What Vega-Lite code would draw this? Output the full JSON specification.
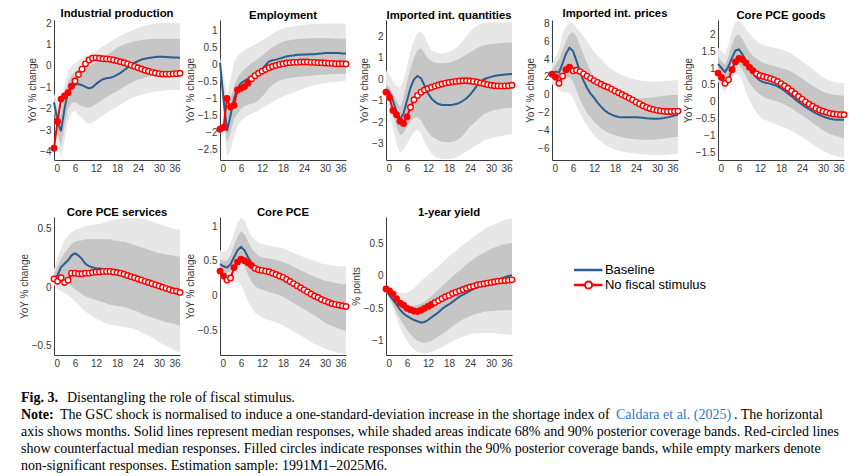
{
  "$schema": "https://vega.github.io/schema/vega-lite/v6.json",
  "background": "white",
  "padding": {"left": 19, "top": 7, "right": 0, "bottom": 0},
  "datasets": {
    "irf": [
      {"v":"ip","h":0,"base":-1.7,"cf":-3.85,"sig":1,"lo90":-2.1,"hi90":-1.3,"lo68":-1.9,"hi68":-1.5},
      {"v":"ip","h":1,"base":-2.6,"cf":-2.6,"sig":1,"lo90":-3.5,"hi90":-1.7,"lo68":-3.0,"hi68":-2.1},
      {"v":"ip","h":2,"base":-3.05,"cf":-1.55,"sig":1,"lo90":-4.3,"hi90":-1.9,"lo68":-3.8,"hi68":-2.4},
      {"v":"ip","h":3,"base":-2.0,"cf":-1.4,"sig":1,"lo90":-3.5,"hi90":-0.9,"lo68":-2.8,"hi68":-1.3},
      {"v":"ip","h":4,"base":-1.2,"cf":-1.25,"sig":1,"lo90":-2.6,"hi90":-0.3,"lo68":-2.0,"hi68":-0.75},
      {"v":"ip","h":5,"base":-0.95,"cf":-0.95,"sig":1,"lo90":-2.2,"hi90":0.0,"lo68":-1.75,"hi68":-0.45},
      {"v":"ip","h":6,"base":-0.88,"cf":-0.7,"sig":0,"lo90":-2.1,"hi90":0.12,"lo68":-1.7,"hi68":-0.3},
      {"v":"ip","h":7,"base":-0.85,"cf":-0.4,"sig":0,"lo90":-2.3,"hi90":0.25,"lo68":-1.8,"hi68":-0.15},
      {"v":"ip","h":8,"base":-0.9,"cf":-0.15,"sig":0,"lo90":-2.45,"hi90":0.35,"lo68":-1.88,"hi68":-0.05},
      {"v":"ip","h":9,"base":-0.98,"cf":0.1,"sig":0,"lo90":-2.6,"hi90":0.45,"lo68":-1.93,"hi68":0.0},
      {"v":"ip","h":10,"base":-1.05,"cf":0.28,"sig":0,"lo90":-2.7,"hi90":0.55,"lo68":-1.95,"hi68":0.03},
      {"v":"ip","h":11,"base":-1.0,"cf":0.36,"sig":0,"lo90":-2.65,"hi90":0.62,"lo68":-1.88,"hi68":0.1},
      {"v":"ip","h":12,"base":-0.85,"cf":0.38,"sig":0,"lo90":-2.55,"hi90":0.7,"lo68":-1.78,"hi68":0.18},
      {"v":"ip","h":13,"base":-0.72,"cf":0.36,"sig":0,"lo90":-2.42,"hi90":0.8,"lo68":-1.67,"hi68":0.28},
      {"v":"ip","h":14,"base":-0.62,"cf":0.34,"sig":0,"lo90":-2.3,"hi90":0.92,"lo68":-1.55,"hi68":0.38},
      {"v":"ip","h":15,"base":-0.58,"cf":0.33,"sig":0,"lo90":-2.2,"hi90":1.02,"lo68":-1.45,"hi68":0.5},
      {"v":"ip","h":16,"base":-0.55,"cf":0.31,"sig":0,"lo90":-2.1,"hi90":1.12,"lo68":-1.36,"hi68":0.62},
      {"v":"ip","h":17,"base":-0.5,"cf":0.28,"sig":0,"lo90":-2.0,"hi90":1.22,"lo68":-1.27,"hi68":0.74},
      {"v":"ip","h":18,"base":-0.42,"cf":0.24,"sig":0,"lo90":-1.92,"hi90":1.32,"lo68":-1.18,"hi68":0.84},
      {"v":"ip","h":19,"base":-0.32,"cf":0.2,"sig":0,"lo90":-1.8,"hi90":1.42,"lo68":-1.08,"hi68":0.93},
      {"v":"ip","h":20,"base":-0.2,"cf":0.15,"sig":0,"lo90":-1.7,"hi90":1.5,"lo68":-0.98,"hi68":1.0},
      {"v":"ip","h":21,"base":-0.08,"cf":0.1,"sig":0,"lo90":-1.6,"hi90":1.58,"lo68":-0.88,"hi68":1.06},
      {"v":"ip","h":22,"base":0.05,"cf":0.04,"sig":0,"lo90":-1.52,"hi90":1.65,"lo68":-0.8,"hi68":1.1},
      {"v":"ip","h":23,"base":0.15,"cf":-0.02,"sig":0,"lo90":-1.45,"hi90":1.72,"lo68":-0.72,"hi68":1.15},
      {"v":"ip","h":24,"base":0.23,"cf":-0.08,"sig":0,"lo90":-1.4,"hi90":1.78,"lo68":-0.65,"hi68":1.18},
      {"v":"ip","h":25,"base":0.3,"cf":-0.14,"sig":0,"lo90":-1.35,"hi90":1.84,"lo68":-0.6,"hi68":1.21},
      {"v":"ip","h":26,"base":0.34,"cf":-0.2,"sig":0,"lo90":-1.3,"hi90":1.88,"lo68":-0.55,"hi68":1.23},
      {"v":"ip","h":27,"base":0.37,"cf":-0.25,"sig":0,"lo90":-1.26,"hi90":1.92,"lo68":-0.5,"hi68":1.25},
      {"v":"ip","h":28,"base":0.4,"cf":-0.3,"sig":0,"lo90":-1.23,"hi90":1.96,"lo68":-0.46,"hi68":1.26},
      {"v":"ip","h":29,"base":0.42,"cf":-0.33,"sig":0,"lo90":-1.2,"hi90":1.99,"lo68":-0.43,"hi68":1.27},
      {"v":"ip","h":30,"base":0.43,"cf":-0.36,"sig":0,"lo90":-1.18,"hi90":2.01,"lo68":-0.41,"hi68":1.27},
      {"v":"ip","h":31,"base":0.43,"cf":-0.38,"sig":0,"lo90":-1.16,"hi90":2.02,"lo68":-0.39,"hi68":1.27},
      {"v":"ip","h":32,"base":0.42,"cf":-0.38,"sig":0,"lo90":-1.14,"hi90":2.02,"lo68":-0.38,"hi68":1.27},
      {"v":"ip","h":33,"base":0.41,"cf":-0.38,"sig":0,"lo90":-1.13,"hi90":2.02,"lo68":-0.37,"hi68":1.27},
      {"v":"ip","h":34,"base":0.4,"cf":-0.37,"sig":0,"lo90":-1.12,"hi90":2.01,"lo68":-0.36,"hi68":1.27},
      {"v":"ip","h":35,"base":0.39,"cf":-0.36,"sig":0,"lo90":-1.12,"hi90":2.0,"lo68":-0.36,"hi68":1.27},
      {"v":"ip","h":36,"base":0.38,"cf":-0.34,"sig":0,"lo90":-1.12,"hi90":2.0,"lo68":-0.36,"hi68":1.27},

      {"v":"emp","h":0,"base":0.05,"cf":-1.9,"sig":1,"lo90":-0.15,"hi90":0.2,"lo68":-0.05,"hi68":0.1},
      {"v":"emp","h":1,"base":-1.0,"cf":-1.85,"sig":1,"lo90":-1.6,"hi90":-0.3,"lo68":-1.3,"hi68":-0.65},
      {"v":"emp","h":2,"base":-1.95,"cf":-1.0,"sig":1,"lo90":-2.7,"hi90":-0.9,"lo68":-2.3,"hi68":-1.45},
      {"v":"emp","h":3,"base":-1.5,"cf":-1.25,"sig":1,"lo90":-2.5,"hi90":-0.45,"lo68":-2.0,"hi68":-1.0},
      {"v":"emp","h":4,"base":-1.0,"cf":-1.2,"sig":1,"lo90":-2.1,"hi90":0.05,"lo68":-1.6,"hi68":-0.65},
      {"v":"emp","h":5,"base":-0.7,"cf":-0.75,"sig":1,"lo90":-1.8,"hi90":0.25,"lo68":-1.45,"hi68":-0.4},
      {"v":"emp","h":6,"base":-0.55,"cf":-0.7,"sig":1,"lo90":-1.65,"hi90":0.35,"lo68":-1.3,"hi68":-0.25},
      {"v":"emp","h":7,"base":-0.48,"cf":-0.65,"sig":1,"lo90":-1.57,"hi90":0.42,"lo68":-1.22,"hi68":-0.14},
      {"v":"emp","h":8,"base":-0.42,"cf":-0.55,"sig":1,"lo90":-1.5,"hi90":0.48,"lo68":-1.18,"hi68":-0.05},
      {"v":"emp","h":9,"base":-0.38,"cf":-0.42,"sig":0,"lo90":-1.45,"hi90":0.53,"lo68":-1.15,"hi68":0.03},
      {"v":"emp","h":10,"base":-0.35,"cf":-0.33,"sig":0,"lo90":-1.4,"hi90":0.58,"lo68":-1.12,"hi68":0.1},
      {"v":"emp","h":11,"base":-0.28,"cf":-0.26,"sig":0,"lo90":-1.35,"hi90":0.64,"lo68":-1.05,"hi68":0.18},
      {"v":"emp","h":12,"base":-0.15,"cf":-0.2,"sig":0,"lo90":-1.28,"hi90":0.7,"lo68":-0.95,"hi68":0.25},
      {"v":"emp","h":13,"base":-0.02,"cf":-0.15,"sig":0,"lo90":-1.22,"hi90":0.76,"lo68":-0.83,"hi68":0.34},
      {"v":"emp","h":14,"base":0.08,"cf":-0.1,"sig":0,"lo90":-1.16,"hi90":0.83,"lo68":-0.7,"hi68":0.42},
      {"v":"emp","h":15,"base":0.12,"cf":-0.06,"sig":0,"lo90":-1.1,"hi90":0.9,"lo68":-0.6,"hi68":0.5},
      {"v":"emp","h":16,"base":0.14,"cf":-0.03,"sig":0,"lo90":-1.04,"hi90":0.96,"lo68":-0.53,"hi68":0.57},
      {"v":"emp","h":17,"base":0.17,"cf":0.0,"sig":0,"lo90":-0.99,"hi90":1.01,"lo68":-0.48,"hi68":0.62},
      {"v":"emp","h":18,"base":0.2,"cf":0.02,"sig":0,"lo90":-0.94,"hi90":1.05,"lo68":-0.45,"hi68":0.66},
      {"v":"emp","h":19,"base":0.23,"cf":0.04,"sig":0,"lo90":-0.9,"hi90":1.08,"lo68":-0.42,"hi68":0.69},
      {"v":"emp","h":20,"base":0.25,"cf":0.05,"sig":0,"lo90":-0.86,"hi90":1.1,"lo68":-0.4,"hi68":0.71},
      {"v":"emp","h":21,"base":0.26,"cf":0.06,"sig":0,"lo90":-0.82,"hi90":1.12,"lo68":-0.38,"hi68":0.73},
      {"v":"emp","h":22,"base":0.28,"cf":0.06,"sig":0,"lo90":-0.78,"hi90":1.14,"lo68":-0.37,"hi68":0.74},
      {"v":"emp","h":23,"base":0.28,"cf":0.07,"sig":0,"lo90":-0.74,"hi90":1.15,"lo68":-0.36,"hi68":0.75},
      {"v":"emp","h":24,"base":0.29,"cf":0.07,"sig":0,"lo90":-0.7,"hi90":1.16,"lo68":-0.35,"hi68":0.76},
      {"v":"emp","h":25,"base":0.29,"cf":0.07,"sig":0,"lo90":-0.67,"hi90":1.17,"lo68":-0.34,"hi68":0.76},
      {"v":"emp","h":26,"base":0.3,"cf":0.06,"sig":0,"lo90":-0.64,"hi90":1.18,"lo68":-0.33,"hi68":0.77},
      {"v":"emp","h":27,"base":0.3,"cf":0.06,"sig":0,"lo90":-0.61,"hi90":1.18,"lo68":-0.32,"hi68":0.77},
      {"v":"emp","h":28,"base":0.31,"cf":0.05,"sig":0,"lo90":-0.59,"hi90":1.19,"lo68":-0.31,"hi68":0.77},
      {"v":"emp","h":29,"base":0.32,"cf":0.05,"sig":0,"lo90":-0.57,"hi90":1.19,"lo68":-0.3,"hi68":0.77},
      {"v":"emp","h":30,"base":0.33,"cf":0.04,"sig":0,"lo90":-0.55,"hi90":1.2,"lo68":-0.3,"hi68":0.77},
      {"v":"emp","h":31,"base":0.33,"cf":0.03,"sig":0,"lo90":-0.53,"hi90":1.2,"lo68":-0.29,"hi68":0.77},
      {"v":"emp","h":32,"base":0.33,"cf":0.03,"sig":0,"lo90":-0.52,"hi90":1.2,"lo68":-0.29,"hi68":0.76},
      {"v":"emp","h":33,"base":0.33,"cf":0.02,"sig":0,"lo90":-0.51,"hi90":1.2,"lo68":-0.28,"hi68":0.76},
      {"v":"emp","h":34,"base":0.33,"cf":0.02,"sig":0,"lo90":-0.5,"hi90":1.2,"lo68":-0.28,"hi68":0.76},
      {"v":"emp","h":35,"base":0.32,"cf":0.02,"sig":0,"lo90":-0.49,"hi90":1.2,"lo68":-0.28,"hi68":0.75},
      {"v":"emp","h":36,"base":0.32,"cf":0.01,"sig":0,"lo90":-0.48,"hi90":1.2,"lo68":-0.28,"hi68":0.75},

      {"v":"impq","h":0,"base":-0.45,"cf":-0.6,"sig":1,"lo90":-0.8,"hi90":0.4,"lo68":-0.6,"hi68":-0.25},
      {"v":"impq","h":1,"base":-0.6,"cf":-0.85,"sig":1,"lo90":-1.5,"hi90":0.2,"lo68":-1.0,"hi68":-0.4},
      {"v":"impq","h":2,"base":-1.0,"cf":-1.45,"sig":1,"lo90":-2.3,"hi90":-0.1,"lo68":-1.6,"hi68":-0.7},
      {"v":"impq","h":3,"base":-1.5,"cf":-1.65,"sig":1,"lo90":-3.0,"hi90":-0.3,"lo68":-2.2,"hi68":-1.0},
      {"v":"impq","h":4,"base":-1.85,"cf":-1.95,"sig":1,"lo90":-3.4,"hi90":-0.4,"lo68":-2.6,"hi68":-1.3},
      {"v":"impq","h":5,"base":-1.6,"cf":-2.05,"sig":1,"lo90":-3.3,"hi90":-0.1,"lo68":-2.5,"hi68":-0.9},
      {"v":"impq","h":6,"base":-1.0,"cf":-1.75,"sig":1,"lo90":-3.0,"hi90":0.6,"lo68":-2.2,"hi68":-0.1},
      {"v":"impq","h":7,"base":-0.4,"cf":-1.3,"sig":0,"lo90":-2.7,"hi90":1.3,"lo68":-1.95,"hi68":0.5},
      {"v":"impq","h":8,"base":0.0,"cf":-0.95,"sig":0,"lo90":-2.45,"hi90":1.8,"lo68":-1.8,"hi68":1.0},
      {"v":"impq","h":9,"base":0.15,"cf":-0.75,"sig":0,"lo90":-2.35,"hi90":2.15,"lo68":-1.75,"hi68":1.35},
      {"v":"impq","h":10,"base":0.05,"cf":-0.6,"sig":0,"lo90":-2.5,"hi90":2.2,"lo68":-1.9,"hi68":1.45},
      {"v":"impq","h":11,"base":-0.3,"cf":-0.5,"sig":0,"lo90":-2.9,"hi90":2.0,"lo68":-2.2,"hi68":1.2},
      {"v":"impq","h":12,"base":-0.65,"cf":-0.43,"sig":0,"lo90":-3.2,"hi90":1.6,"lo68":-2.45,"hi68":0.95},
      {"v":"impq","h":13,"base":-0.9,"cf":-0.37,"sig":0,"lo90":-3.45,"hi90":1.35,"lo68":-2.65,"hi68":0.85},
      {"v":"impq","h":14,"base":-1.05,"cf":-0.32,"sig":0,"lo90":-3.6,"hi90":1.25,"lo68":-2.75,"hi68":0.78},
      {"v":"impq","h":15,"base":-1.15,"cf":-0.27,"sig":0,"lo90":-3.65,"hi90":1.2,"lo68":-2.85,"hi68":0.75},
      {"v":"impq","h":16,"base":-1.2,"cf":-0.22,"sig":0,"lo90":-3.7,"hi90":1.2,"lo68":-2.9,"hi68":0.74},
      {"v":"impq","h":17,"base":-1.2,"cf":-0.18,"sig":0,"lo90":-3.7,"hi90":1.22,"lo68":-2.92,"hi68":0.75},
      {"v":"impq","h":18,"base":-1.2,"cf":-0.15,"sig":0,"lo90":-3.7,"hi90":1.28,"lo68":-2.93,"hi68":0.78},
      {"v":"impq","h":19,"base":-1.18,"cf":-0.12,"sig":0,"lo90":-3.68,"hi90":1.35,"lo68":-2.9,"hi68":0.82},
      {"v":"impq","h":20,"base":-1.15,"cf":-0.1,"sig":0,"lo90":-3.62,"hi90":1.45,"lo68":-2.85,"hi68":0.88},
      {"v":"impq","h":21,"base":-1.1,"cf":-0.08,"sig":0,"lo90":-3.55,"hi90":1.6,"lo68":-2.75,"hi68":0.95},
      {"v":"impq","h":22,"base":-1.0,"cf":-0.07,"sig":0,"lo90":-3.45,"hi90":1.8,"lo68":-2.6,"hi68":1.05},
      {"v":"impq","h":23,"base":-0.88,"cf":-0.07,"sig":0,"lo90":-3.35,"hi90":2.0,"lo68":-2.4,"hi68":1.15},
      {"v":"impq","h":24,"base":-0.72,"cf":-0.08,"sig":0,"lo90":-3.25,"hi90":2.2,"lo68":-2.2,"hi68":1.25},
      {"v":"impq","h":25,"base":-0.52,"cf":-0.1,"sig":0,"lo90":-3.15,"hi90":2.35,"lo68":-2.05,"hi68":1.35},
      {"v":"impq","h":26,"base":-0.3,"cf":-0.13,"sig":0,"lo90":-3.05,"hi90":2.5,"lo68":-1.9,"hi68":1.45},
      {"v":"impq","h":27,"base":-0.12,"cf":-0.17,"sig":0,"lo90":-2.95,"hi90":2.58,"lo68":-1.75,"hi68":1.52},
      {"v":"impq","h":28,"base":0.0,"cf":-0.21,"sig":0,"lo90":-2.85,"hi90":2.62,"lo68":-1.62,"hi68":1.57},
      {"v":"impq","h":29,"base":0.06,"cf":-0.25,"sig":0,"lo90":-2.8,"hi90":2.64,"lo68":-1.55,"hi68":1.6},
      {"v":"impq","h":30,"base":0.11,"cf":-0.28,"sig":0,"lo90":-2.75,"hi90":2.65,"lo68":-1.48,"hi68":1.63},
      {"v":"impq","h":31,"base":0.15,"cf":-0.3,"sig":0,"lo90":-2.7,"hi90":2.65,"lo68":-1.43,"hi68":1.65},
      {"v":"impq","h":32,"base":0.18,"cf":-0.31,"sig":0,"lo90":-2.66,"hi90":2.65,"lo68":-1.4,"hi68":1.67},
      {"v":"impq","h":33,"base":0.2,"cf":-0.32,"sig":0,"lo90":-2.63,"hi90":2.65,"lo68":-1.37,"hi68":1.68},
      {"v":"impq","h":34,"base":0.22,"cf":-0.31,"sig":0,"lo90":-2.6,"hi90":2.65,"lo68":-1.35,"hi68":1.69},
      {"v":"impq","h":35,"base":0.23,"cf":-0.3,"sig":0,"lo90":-2.58,"hi90":2.65,"lo68":-1.33,"hi68":1.7},
      {"v":"impq","h":36,"base":0.24,"cf":-0.28,"sig":0,"lo90":-2.56,"hi90":2.65,"lo68":-1.32,"hi68":1.7},

      {"v":"impp","h":0,"base":2.3,"cf":2.3,"sig":1,"lo90":1.2,"hi90":3.5,"lo68":1.8,"hi68":2.8},
      {"v":"impp","h":1,"base":2.6,"cf":2.0,"sig":1,"lo90":1.0,"hi90":4.2,"lo68":1.6,"hi68":3.4},
      {"v":"impp","h":2,"base":2.5,"cf":1.3,"sig":0,"lo90":0.6,"hi90":5.0,"lo68":1.4,"hi68":4.0},
      {"v":"impp","h":3,"base":3.5,"cf":2.1,"sig":0,"lo90":0.3,"hi90":6.8,"lo68":1.5,"hi68":5.0},
      {"v":"impp","h":4,"base":4.6,"cf":2.8,"sig":1,"lo90":0.3,"hi90":7.6,"lo68":1.8,"hi68":6.0},
      {"v":"impp","h":5,"base":5.25,"cf":3.1,"sig":1,"lo90":0.2,"hi90":8.1,"lo68":2.0,"hi68":6.8},
      {"v":"impp","h":6,"base":4.9,"cf":2.7,"sig":0,"lo90":-0.3,"hi90":8.0,"lo68":1.5,"hi68":7.0},
      {"v":"impp","h":7,"base":3.8,"cf":2.75,"sig":0,"lo90":-1.2,"hi90":7.5,"lo68":0.5,"hi68":6.5},
      {"v":"impp","h":8,"base":2.6,"cf":2.6,"sig":0,"lo90":-2.0,"hi90":7.0,"lo68":-0.5,"hi68":5.5},
      {"v":"impp","h":9,"base":1.6,"cf":2.35,"sig":0,"lo90":-2.8,"hi90":6.5,"lo68":-1.3,"hi68":4.5},
      {"v":"impp","h":10,"base":0.8,"cf":2.1,"sig":0,"lo90":-3.4,"hi90":6.0,"lo68":-2.0,"hi68":3.5},
      {"v":"impp","h":11,"base":0.15,"cf":1.85,"sig":0,"lo90":-4.0,"hi90":5.4,"lo68":-2.5,"hi68":2.7},
      {"v":"impp","h":12,"base":-0.3,"cf":1.6,"sig":0,"lo90":-4.5,"hi90":4.8,"lo68":-3.0,"hi68":2.0},
      {"v":"impp","h":13,"base":-0.85,"cf":1.4,"sig":0,"lo90":-4.9,"hi90":4.4,"lo68":-3.35,"hi68":1.5},
      {"v":"impp","h":14,"base":-1.3,"cf":1.2,"sig":0,"lo90":-5.2,"hi90":4.0,"lo68":-3.7,"hi68":1.05},
      {"v":"impp","h":15,"base":-1.7,"cf":1.0,"sig":0,"lo90":-5.5,"hi90":3.6,"lo68":-3.95,"hi68":0.7},
      {"v":"impp","h":16,"base":-2.0,"cf":0.85,"sig":0,"lo90":-5.75,"hi90":3.2,"lo68":-4.2,"hi68":0.4},
      {"v":"impp","h":17,"base":-2.2,"cf":0.65,"sig":0,"lo90":-5.95,"hi90":2.9,"lo68":-4.35,"hi68":0.2},
      {"v":"impp","h":18,"base":-2.35,"cf":0.45,"sig":0,"lo90":-6.1,"hi90":2.6,"lo68":-4.5,"hi68":0.1},
      {"v":"impp","h":19,"base":-2.45,"cf":0.25,"sig":0,"lo90":-6.2,"hi90":2.4,"lo68":-4.6,"hi68":0.0},
      {"v":"impp","h":20,"base":-2.5,"cf":0.05,"sig":0,"lo90":-6.3,"hi90":2.2,"lo68":-4.7,"hi68":-0.1},
      {"v":"impp","h":21,"base":-2.5,"cf":-0.15,"sig":0,"lo90":-6.4,"hi90":2.05,"lo68":-4.8,"hi68":-0.2},
      {"v":"impp","h":22,"base":-2.5,"cf":-0.35,"sig":0,"lo90":-6.45,"hi90":1.9,"lo68":-4.85,"hi68":-0.3},
      {"v":"impp","h":23,"base":-2.5,"cf":-0.55,"sig":0,"lo90":-6.5,"hi90":1.8,"lo68":-4.9,"hi68":-0.35},
      {"v":"impp","h":24,"base":-2.5,"cf":-0.8,"sig":0,"lo90":-6.55,"hi90":1.7,"lo68":-4.95,"hi68":-0.4},
      {"v":"impp","h":25,"base":-2.52,"cf":-1.0,"sig":0,"lo90":-6.6,"hi90":1.62,"lo68":-5.0,"hi68":-0.4},
      {"v":"impp","h":26,"base":-2.55,"cf":-1.2,"sig":0,"lo90":-6.62,"hi90":1.55,"lo68":-5.0,"hi68":-0.38},
      {"v":"impp","h":27,"base":-2.6,"cf":-1.38,"sig":0,"lo90":-6.65,"hi90":1.52,"lo68":-5.0,"hi68":-0.35},
      {"v":"impp","h":28,"base":-2.62,"cf":-1.52,"sig":0,"lo90":-6.68,"hi90":1.5,"lo68":-5.0,"hi68":-0.3},
      {"v":"impp","h":29,"base":-2.65,"cf":-1.63,"sig":0,"lo90":-6.7,"hi90":1.5,"lo68":-5.0,"hi68":-0.25},
      {"v":"impp","h":30,"base":-2.65,"cf":-1.72,"sig":0,"lo90":-6.7,"hi90":1.5,"lo68":-4.95,"hi68":-0.2},
      {"v":"impp","h":31,"base":-2.63,"cf":-1.78,"sig":0,"lo90":-6.7,"hi90":1.52,"lo68":-4.9,"hi68":-0.15},
      {"v":"impp","h":32,"base":-2.58,"cf":-1.82,"sig":0,"lo90":-6.68,"hi90":1.55,"lo68":-4.85,"hi68":-0.1},
      {"v":"impp","h":33,"base":-2.5,"cf":-1.85,"sig":0,"lo90":-6.66,"hi90":1.58,"lo68":-4.8,"hi68":-0.05},
      {"v":"impp","h":34,"base":-2.4,"cf":-1.85,"sig":0,"lo90":-6.64,"hi90":1.6,"lo68":-4.75,"hi68":0.0},
      {"v":"impp","h":35,"base":-2.3,"cf":-1.83,"sig":0,"lo90":-6.62,"hi90":1.63,"lo68":-4.7,"hi68":0.0},
      {"v":"impp","h":36,"base":-2.2,"cf":-1.8,"sig":0,"lo90":-6.6,"hi90":1.65,"lo68":-4.65,"hi68":0.0},

      {"v":"pceg","h":0,"base":1.12,"cf":0.85,"sig":1,"lo90":0.6,"hi90":1.6,"lo68":0.9,"hi68":1.35},
      {"v":"pceg","h":1,"base":1.0,"cf":0.72,"sig":1,"lo90":0.4,"hi90":1.5,"lo68":0.7,"hi68":1.2},
      {"v":"pceg","h":2,"base":0.88,"cf":0.55,"sig":0,"lo90":0.3,"hi90":1.4,"lo68":0.6,"hi68":1.1},
      {"v":"pceg","h":3,"base":1.05,"cf":0.65,"sig":0,"lo90":0.45,"hi90":1.7,"lo68":0.75,"hi68":1.35},
      {"v":"pceg","h":4,"base":1.3,"cf":0.95,"sig":1,"lo90":0.7,"hi90":2.1,"lo68":1.0,"hi68":1.7},
      {"v":"pceg","h":5,"base":1.52,"cf":1.18,"sig":1,"lo90":0.85,"hi90":2.35,"lo68":1.15,"hi68":1.95},
      {"v":"pceg","h":6,"base":1.55,"cf":1.28,"sig":1,"lo90":0.8,"hi90":2.4,"lo68":1.1,"hi68":2.0},
      {"v":"pceg","h":7,"base":1.4,"cf":1.25,"sig":1,"lo90":0.6,"hi90":2.3,"lo68":0.95,"hi68":1.85},
      {"v":"pceg","h":8,"base":1.2,"cf":1.15,"sig":1,"lo90":0.3,"hi90":2.15,"lo68":0.75,"hi68":1.65},
      {"v":"pceg","h":9,"base":1.0,"cf":1.02,"sig":1,"lo90":0.05,"hi90":2.0,"lo68":0.55,"hi68":1.47},
      {"v":"pceg","h":10,"base":0.85,"cf":0.92,"sig":1,"lo90":-0.15,"hi90":1.9,"lo68":0.42,"hi68":1.35},
      {"v":"pceg","h":11,"base":0.72,"cf":0.83,"sig":0,"lo90":-0.32,"hi90":1.8,"lo68":0.3,"hi68":1.28},
      {"v":"pceg","h":12,"base":0.63,"cf":0.78,"sig":0,"lo90":-0.45,"hi90":1.72,"lo68":0.22,"hi68":1.2},
      {"v":"pceg","h":13,"base":0.58,"cf":0.75,"sig":0,"lo90":-0.52,"hi90":1.68,"lo68":0.15,"hi68":1.15},
      {"v":"pceg","h":14,"base":0.56,"cf":0.72,"sig":0,"lo90":-0.56,"hi90":1.65,"lo68":0.1,"hi68":1.12},
      {"v":"pceg","h":15,"base":0.53,"cf":0.69,"sig":0,"lo90":-0.6,"hi90":1.62,"lo68":0.07,"hi68":1.09},
      {"v":"pceg","h":16,"base":0.5,"cf":0.65,"sig":0,"lo90":-0.64,"hi90":1.6,"lo68":0.04,"hi68":1.06},
      {"v":"pceg","h":17,"base":0.46,"cf":0.6,"sig":0,"lo90":-0.68,"hi90":1.58,"lo68":0.01,"hi68":1.03},
      {"v":"pceg","h":18,"base":0.4,"cf":0.54,"sig":0,"lo90":-0.72,"hi90":1.55,"lo68":-0.03,"hi68":1.0},
      {"v":"pceg","h":19,"base":0.33,"cf":0.47,"sig":0,"lo90":-0.76,"hi90":1.52,"lo68":-0.08,"hi68":0.97},
      {"v":"pceg","h":20,"base":0.25,"cf":0.4,"sig":0,"lo90":-0.8,"hi90":1.48,"lo68":-0.13,"hi68":0.94},
      {"v":"pceg","h":21,"base":0.17,"cf":0.32,"sig":0,"lo90":-0.86,"hi90":1.42,"lo68":-0.19,"hi68":0.89},
      {"v":"pceg","h":22,"base":0.08,"cf":0.24,"sig":0,"lo90":-0.92,"hi90":1.35,"lo68":-0.26,"hi68":0.83},
      {"v":"pceg","h":23,"base":0.0,"cf":0.16,"sig":0,"lo90":-0.98,"hi90":1.28,"lo68":-0.33,"hi68":0.76},
      {"v":"pceg","h":24,"base":-0.08,"cf":0.08,"sig":0,"lo90":-1.04,"hi90":1.2,"lo68":-0.4,"hi68":0.69},
      {"v":"pceg","h":25,"base":-0.15,"cf":0.0,"sig":0,"lo90":-1.11,"hi90":1.12,"lo68":-0.47,"hi68":0.62},
      {"v":"pceg","h":26,"base":-0.22,"cf":-0.07,"sig":0,"lo90":-1.18,"hi90":1.05,"lo68":-0.54,"hi68":0.55},
      {"v":"pceg","h":27,"base":-0.28,"cf":-0.13,"sig":0,"lo90":-1.25,"hi90":0.96,"lo68":-0.62,"hi68":0.48},
      {"v":"pceg","h":28,"base":-0.34,"cf":-0.19,"sig":0,"lo90":-1.32,"hi90":0.88,"lo68":-0.7,"hi68":0.41},
      {"v":"pceg","h":29,"base":-0.39,"cf":-0.24,"sig":0,"lo90":-1.39,"hi90":0.8,"lo68":-0.77,"hi68":0.35},
      {"v":"pceg","h":30,"base":-0.43,"cf":-0.28,"sig":0,"lo90":-1.45,"hi90":0.72,"lo68":-0.84,"hi68":0.3},
      {"v":"pceg","h":31,"base":-0.47,"cf":-0.31,"sig":0,"lo90":-1.5,"hi90":0.67,"lo68":-0.9,"hi68":0.26},
      {"v":"pceg","h":32,"base":-0.5,"cf":-0.34,"sig":0,"lo90":-1.55,"hi90":0.62,"lo68":-0.95,"hi68":0.23},
      {"v":"pceg","h":33,"base":-0.52,"cf":-0.36,"sig":0,"lo90":-1.59,"hi90":0.59,"lo68":-0.99,"hi68":0.21},
      {"v":"pceg","h":34,"base":-0.53,"cf":-0.37,"sig":0,"lo90":-1.62,"hi90":0.57,"lo68":-1.02,"hi68":0.2},
      {"v":"pceg","h":35,"base":-0.53,"cf":-0.38,"sig":0,"lo90":-1.64,"hi90":0.56,"lo68":-1.05,"hi68":0.19},
      {"v":"pceg","h":36,"base":-0.53,"cf":-0.38,"sig":0,"lo90":-1.66,"hi90":0.55,"lo68":-1.07,"hi68":0.18},

      {"v":"pces","h":0,"base":0.08,"cf":0.07,"sig":0,"lo90":0.02,"hi90":0.15,"lo68":0.05,"hi68":0.11},
      {"v":"pces","h":1,"base":0.1,"cf":0.05,"sig":0,"lo90":-0.02,"hi90":0.25,"lo68":0.04,"hi68":0.18},
      {"v":"pces","h":2,"base":0.17,"cf":0.08,"sig":0,"lo90":-0.03,"hi90":0.33,"lo68":0.06,"hi68":0.24},
      {"v":"pces","h":3,"base":0.2,"cf":0.04,"sig":0,"lo90":-0.05,"hi90":0.4,"lo68":0.05,"hi68":0.29},
      {"v":"pces","h":4,"base":0.23,"cf":0.06,"sig":0,"lo90":-0.07,"hi90":0.44,"lo68":0.03,"hi68":0.33},
      {"v":"pces","h":5,"base":0.27,"cf":0.12,"sig":0,"lo90":-0.09,"hi90":0.47,"lo68":0.01,"hi68":0.37},
      {"v":"pces","h":6,"base":0.29,"cf":0.12,"sig":0,"lo90":-0.12,"hi90":0.49,"lo68":-0.02,"hi68":0.39},
      {"v":"pces","h":7,"base":0.27,"cf":0.115,"sig":0,"lo90":-0.15,"hi90":0.5,"lo68":-0.04,"hi68":0.4},
      {"v":"pces","h":8,"base":0.24,"cf":0.115,"sig":0,"lo90":-0.18,"hi90":0.51,"lo68":-0.06,"hi68":0.4},
      {"v":"pces","h":9,"base":0.2,"cf":0.12,"sig":0,"lo90":-0.21,"hi90":0.52,"lo68":-0.08,"hi68":0.41},
      {"v":"pces","h":10,"base":0.18,"cf":0.12,"sig":0,"lo90":-0.23,"hi90":0.53,"lo68":-0.09,"hi68":0.41},
      {"v":"pces","h":11,"base":0.17,"cf":0.125,"sig":0,"lo90":-0.25,"hi90":0.53,"lo68":-0.1,"hi68":0.41},
      {"v":"pces","h":12,"base":0.16,"cf":0.13,"sig":0,"lo90":-0.27,"hi90":0.54,"lo68":-0.11,"hi68":0.41},
      {"v":"pces","h":13,"base":0.16,"cf":0.13,"sig":0,"lo90":-0.28,"hi90":0.54,"lo68":-0.12,"hi68":0.41},
      {"v":"pces","h":14,"base":0.155,"cf":0.135,"sig":0,"lo90":-0.3,"hi90":0.55,"lo68":-0.13,"hi68":0.41},
      {"v":"pces","h":15,"base":0.15,"cf":0.135,"sig":0,"lo90":-0.31,"hi90":0.56,"lo68":-0.14,"hi68":0.41},
      {"v":"pces","h":16,"base":0.145,"cf":0.135,"sig":0,"lo90":-0.32,"hi90":0.57,"lo68":-0.15,"hi68":0.41},
      {"v":"pces","h":17,"base":0.14,"cf":0.13,"sig":0,"lo90":-0.325,"hi90":0.575,"lo68":-0.155,"hi68":0.4},
      {"v":"pces","h":18,"base":0.13,"cf":0.125,"sig":0,"lo90":-0.33,"hi90":0.58,"lo68":-0.16,"hi68":0.4},
      {"v":"pces","h":19,"base":0.125,"cf":0.12,"sig":0,"lo90":-0.335,"hi90":0.585,"lo68":-0.165,"hi68":0.39},
      {"v":"pces","h":20,"base":0.12,"cf":0.11,"sig":0,"lo90":-0.34,"hi90":0.59,"lo68":-0.17,"hi68":0.39},
      {"v":"pces","h":21,"base":0.11,"cf":0.1,"sig":0,"lo90":-0.345,"hi90":0.59,"lo68":-0.18,"hi68":0.38},
      {"v":"pces","h":22,"base":0.1,"cf":0.09,"sig":0,"lo90":-0.35,"hi90":0.59,"lo68":-0.19,"hi68":0.37},
      {"v":"pces","h":23,"base":0.09,"cf":0.08,"sig":0,"lo90":-0.36,"hi90":0.59,"lo68":-0.2,"hi68":0.36},
      {"v":"pces","h":24,"base":0.08,"cf":0.07,"sig":0,"lo90":-0.37,"hi90":0.59,"lo68":-0.21,"hi68":0.35},
      {"v":"pces","h":25,"base":0.07,"cf":0.06,"sig":0,"lo90":-0.385,"hi90":0.585,"lo68":-0.225,"hi68":0.34},
      {"v":"pces","h":26,"base":0.06,"cf":0.05,"sig":0,"lo90":-0.4,"hi90":0.58,"lo68":-0.24,"hi68":0.33},
      {"v":"pces","h":27,"base":0.05,"cf":0.04,"sig":0,"lo90":-0.415,"hi90":0.57,"lo68":-0.25,"hi68":0.32},
      {"v":"pces","h":28,"base":0.04,"cf":0.03,"sig":0,"lo90":-0.43,"hi90":0.56,"lo68":-0.26,"hi68":0.31},
      {"v":"pces","h":29,"base":0.025,"cf":0.02,"sig":0,"lo90":-0.45,"hi90":0.55,"lo68":-0.27,"hi68":0.3},
      {"v":"pces","h":30,"base":0.01,"cf":0.01,"sig":0,"lo90":-0.47,"hi90":0.54,"lo68":-0.28,"hi68":0.29},
      {"v":"pces","h":31,"base":0.0,"cf":0.0,"sig":0,"lo90":-0.485,"hi90":0.53,"lo68":-0.29,"hi68":0.285},
      {"v":"pces","h":32,"base":-0.01,"cf":-0.01,"sig":0,"lo90":-0.5,"hi90":0.52,"lo68":-0.3,"hi68":0.28},
      {"v":"pces","h":33,"base":-0.02,"cf":-0.02,"sig":0,"lo90":-0.515,"hi90":0.51,"lo68":-0.305,"hi68":0.275},
      {"v":"pces","h":34,"base":-0.03,"cf":-0.03,"sig":0,"lo90":-0.53,"hi90":0.5,"lo68":-0.31,"hi68":0.27},
      {"v":"pces","h":35,"base":-0.035,"cf":-0.035,"sig":0,"lo90":-0.545,"hi90":0.495,"lo68":-0.32,"hi68":0.265},
      {"v":"pces","h":36,"base":-0.04,"cf":-0.045,"sig":0,"lo90":-0.56,"hi90":0.49,"lo68":-0.33,"hi68":0.26},

      {"v":"pce","h":0,"base":0.45,"cf":0.35,"sig":1,"lo90":0.25,"hi90":0.65,"lo68":0.38,"hi68":0.52},
      {"v":"pce","h":1,"base":0.42,"cf":0.28,"sig":1,"lo90":0.2,"hi90":0.62,"lo68":0.34,"hi68":0.5},
      {"v":"pce","h":2,"base":0.4,"cf":0.22,"sig":0,"lo90":0.15,"hi90":0.65,"lo68":0.32,"hi68":0.5},
      {"v":"pce","h":3,"base":0.45,"cf":0.25,"sig":0,"lo90":0.15,"hi90":0.75,"lo68":0.35,"hi68":0.58},
      {"v":"pce","h":4,"base":0.55,"cf":0.4,"sig":1,"lo90":0.2,"hi90":0.9,"lo68":0.42,"hi68":0.72},
      {"v":"pce","h":5,"base":0.65,"cf":0.48,"sig":1,"lo90":0.2,"hi90":1.05,"lo68":0.5,"hi68":0.85},
      {"v":"pce","h":6,"base":0.7,"cf":0.52,"sig":1,"lo90":0.15,"hi90":1.12,"lo68":0.5,"hi68":0.92},
      {"v":"pce","h":7,"base":0.65,"cf":0.5,"sig":1,"lo90":0.05,"hi90":1.08,"lo68":0.42,"hi68":0.88},
      {"v":"pce","h":8,"base":0.55,"cf":0.47,"sig":1,"lo90":-0.08,"hi90":0.95,"lo68":0.3,"hi68":0.78},
      {"v":"pce","h":9,"base":0.47,"cf":0.43,"sig":1,"lo90":-0.18,"hi90":0.85,"lo68":0.2,"hi68":0.68},
      {"v":"pce","h":10,"base":0.4,"cf":0.39,"sig":0,"lo90":-0.25,"hi90":0.8,"lo68":0.13,"hi68":0.62},
      {"v":"pce","h":11,"base":0.36,"cf":0.37,"sig":0,"lo90":-0.29,"hi90":0.76,"lo68":0.1,"hi68":0.57},
      {"v":"pce","h":12,"base":0.34,"cf":0.36,"sig":0,"lo90":-0.32,"hi90":0.74,"lo68":0.08,"hi68":0.55},
      {"v":"pce","h":13,"base":0.33,"cf":0.35,"sig":0,"lo90":-0.34,"hi90":0.73,"lo68":0.065,"hi68":0.54},
      {"v":"pce","h":14,"base":0.32,"cf":0.34,"sig":0,"lo90":-0.36,"hi90":0.72,"lo68":0.05,"hi68":0.53},
      {"v":"pce","h":15,"base":0.31,"cf":0.32,"sig":0,"lo90":-0.37,"hi90":0.71,"lo68":0.035,"hi68":0.52},
      {"v":"pce","h":16,"base":0.29,"cf":0.3,"sig":0,"lo90":-0.39,"hi90":0.7,"lo68":0.02,"hi68":0.51},
      {"v":"pce","h":17,"base":0.27,"cf":0.28,"sig":0,"lo90":-0.41,"hi90":0.69,"lo68":0.0,"hi68":0.5},
      {"v":"pce","h":18,"base":0.25,"cf":0.26,"sig":0,"lo90":-0.43,"hi90":0.68,"lo68":-0.02,"hi68":0.48},
      {"v":"pce","h":19,"base":0.22,"cf":0.23,"sig":0,"lo90":-0.46,"hi90":0.66,"lo68":-0.05,"hi68":0.46},
      {"v":"pce","h":20,"base":0.19,"cf":0.2,"sig":0,"lo90":-0.49,"hi90":0.63,"lo68":-0.08,"hi68":0.44},
      {"v":"pce","h":21,"base":0.16,"cf":0.17,"sig":0,"lo90":-0.52,"hi90":0.61,"lo68":-0.11,"hi68":0.41},
      {"v":"pce","h":22,"base":0.13,"cf":0.14,"sig":0,"lo90":-0.55,"hi90":0.59,"lo68":-0.14,"hi68":0.39},
      {"v":"pce","h":23,"base":0.1,"cf":0.11,"sig":0,"lo90":-0.58,"hi90":0.57,"lo68":-0.17,"hi68":0.36},
      {"v":"pce","h":24,"base":0.07,"cf":0.08,"sig":0,"lo90":-0.61,"hi90":0.55,"lo68":-0.2,"hi68":0.34},
      {"v":"pce","h":25,"base":0.04,"cf":0.05,"sig":0,"lo90":-0.64,"hi90":0.53,"lo68":-0.23,"hi68":0.31},
      {"v":"pce","h":26,"base":0.01,"cf":0.02,"sig":0,"lo90":-0.67,"hi90":0.51,"lo68":-0.26,"hi68":0.29},
      {"v":"pce","h":27,"base":-0.02,"cf":-0.01,"sig":0,"lo90":-0.7,"hi90":0.5,"lo68":-0.29,"hi68":0.27},
      {"v":"pce","h":28,"base":-0.05,"cf":-0.03,"sig":0,"lo90":-0.72,"hi90":0.48,"lo68":-0.32,"hi68":0.25},
      {"v":"pce","h":29,"base":-0.08,"cf":-0.06,"sig":0,"lo90":-0.75,"hi90":0.46,"lo68":-0.36,"hi68":0.23},
      {"v":"pce","h":30,"base":-0.1,"cf":-0.08,"sig":0,"lo90":-0.77,"hi90":0.45,"lo68":-0.39,"hi68":0.21},
      {"v":"pce","h":31,"base":-0.12,"cf":-0.1,"sig":0,"lo90":-0.79,"hi90":0.44,"lo68":-0.42,"hi68":0.2},
      {"v":"pce","h":32,"base":-0.14,"cf":-0.12,"sig":0,"lo90":-0.8,"hi90":0.43,"lo68":-0.44,"hi68":0.19},
      {"v":"pce","h":33,"base":-0.16,"cf":-0.13,"sig":0,"lo90":-0.82,"hi90":0.42,"lo68":-0.46,"hi68":0.18},
      {"v":"pce","h":34,"base":-0.17,"cf":-0.14,"sig":0,"lo90":-0.83,"hi90":0.42,"lo68":-0.48,"hi68":0.17},
      {"v":"pce","h":35,"base":-0.18,"cf":-0.15,"sig":0,"lo90":-0.84,"hi90":0.42,"lo68":-0.5,"hi68":0.16},
      {"v":"pce","h":36,"base":-0.19,"cf":-0.16,"sig":0,"lo90":-0.85,"hi90":0.42,"lo68":-0.51,"hi68":0.16},

      {"v":"y1","h":0,"base":-0.22,"cf":-0.2,"sig":1,"lo90":-0.25,"hi90":-0.15,"lo68":-0.22,"hi68":-0.18},
      {"v":"y1","h":1,"base":-0.3,"cf":-0.23,"sig":1,"lo90":-0.36,"hi90":-0.18,"lo68":-0.33,"hi68":-0.23},
      {"v":"y1","h":2,"base":-0.37,"cf":-0.28,"sig":1,"lo90":-0.5,"hi90":-0.21,"lo68":-0.45,"hi68":-0.28},
      {"v":"y1","h":3,"base":-0.44,"cf":-0.35,"sig":1,"lo90":-0.65,"hi90":-0.24,"lo68":-0.56,"hi68":-0.33},
      {"v":"y1","h":4,"base":-0.52,"cf":-0.42,"sig":1,"lo90":-0.8,"hi90":-0.26,"lo68":-0.66,"hi68":-0.38},
      {"v":"y1","h":5,"base":-0.58,"cf":-0.45,"sig":1,"lo90":-0.9,"hi90":-0.27,"lo68":-0.75,"hi68":-0.42},
      {"v":"y1","h":6,"base":-0.62,"cf":-0.5,"sig":1,"lo90":-1.0,"hi90":-0.26,"lo68":-0.83,"hi68":-0.45},
      {"v":"y1","h":7,"base":-0.65,"cf":-0.52,"sig":1,"lo90":-1.08,"hi90":-0.23,"lo68":-0.9,"hi68":-0.46},
      {"v":"y1","h":8,"base":-0.68,"cf":-0.54,"sig":1,"lo90":-1.14,"hi90":-0.19,"lo68":-0.96,"hi68":-0.46},
      {"v":"y1","h":9,"base":-0.7,"cf":-0.55,"sig":1,"lo90":-1.17,"hi90":-0.13,"lo68":-1.0,"hi68":-0.45},
      {"v":"y1","h":10,"base":-0.72,"cf":-0.53,"sig":1,"lo90":-1.19,"hi90":-0.08,"lo68":-1.02,"hi68":-0.43},
      {"v":"y1","h":11,"base":-0.71,"cf":-0.5,"sig":1,"lo90":-1.2,"hi90":-0.03,"lo68":-1.03,"hi68":-0.4},
      {"v":"y1","h":12,"base":-0.68,"cf":-0.47,"sig":1,"lo90":-1.19,"hi90":0.02,"lo68":-1.02,"hi68":-0.36},
      {"v":"y1","h":13,"base":-0.64,"cf":-0.44,"sig":1,"lo90":-1.17,"hi90":0.06,"lo68":-1.0,"hi68":-0.31},
      {"v":"y1","h":14,"base":-0.6,"cf":-0.41,"sig":0,"lo90":-1.15,"hi90":0.1,"lo68":-0.97,"hi68":-0.26},
      {"v":"y1","h":15,"base":-0.56,"cf":-0.38,"sig":0,"lo90":-1.12,"hi90":0.15,"lo68":-0.93,"hi68":-0.21},
      {"v":"y1","h":16,"base":-0.51,"cf":-0.35,"sig":0,"lo90":-1.1,"hi90":0.2,"lo68":-0.9,"hi68":-0.16},
      {"v":"y1","h":17,"base":-0.47,"cf":-0.32,"sig":0,"lo90":-1.07,"hi90":0.25,"lo68":-0.86,"hi68":-0.11},
      {"v":"y1","h":18,"base":-0.44,"cf":-0.3,"sig":0,"lo90":-1.04,"hi90":0.3,"lo68":-0.82,"hi68":-0.06},
      {"v":"y1","h":19,"base":-0.4,"cf":-0.27,"sig":0,"lo90":-1.01,"hi90":0.35,"lo68":-0.78,"hi68":-0.01},
      {"v":"y1","h":20,"base":-0.36,"cf":-0.25,"sig":0,"lo90":-0.98,"hi90":0.39,"lo68":-0.74,"hi68":0.04},
      {"v":"y1","h":21,"base":-0.32,"cf":-0.23,"sig":0,"lo90":-0.96,"hi90":0.44,"lo68":-0.7,"hi68":0.08},
      {"v":"y1","h":22,"base":-0.29,"cf":-0.21,"sig":0,"lo90":-0.94,"hi90":0.48,"lo68":-0.67,"hi68":0.13},
      {"v":"y1","h":23,"base":-0.26,"cf":-0.19,"sig":0,"lo90":-0.92,"hi90":0.52,"lo68":-0.64,"hi68":0.18},
      {"v":"y1","h":24,"base":-0.23,"cf":-0.17,"sig":0,"lo90":-0.9,"hi90":0.56,"lo68":-0.62,"hi68":0.22},
      {"v":"y1","h":25,"base":-0.2,"cf":-0.16,"sig":0,"lo90":-0.89,"hi90":0.6,"lo68":-0.6,"hi68":0.26},
      {"v":"y1","h":26,"base":-0.18,"cf":-0.14,"sig":0,"lo90":-0.88,"hi90":0.64,"lo68":-0.58,"hi68":0.3},
      {"v":"y1","h":27,"base":-0.16,"cf":-0.13,"sig":0,"lo90":-0.88,"hi90":0.68,"lo68":-0.57,"hi68":0.33},
      {"v":"y1","h":28,"base":-0.14,"cf":-0.12,"sig":0,"lo90":-0.88,"hi90":0.72,"lo68":-0.55,"hi68":0.36},
      {"v":"y1","h":29,"base":-0.12,"cf":-0.11,"sig":0,"lo90":-0.88,"hi90":0.75,"lo68":-0.55,"hi68":0.39},
      {"v":"y1","h":30,"base":-0.1,"cf":-0.1,"sig":0,"lo90":-0.88,"hi90":0.78,"lo68":-0.54,"hi68":0.42},
      {"v":"y1","h":31,"base":-0.08,"cf":-0.09,"sig":0,"lo90":-0.885,"hi90":0.8,"lo68":-0.54,"hi68":0.44},
      {"v":"y1","h":32,"base":-0.06,"cf":-0.08,"sig":0,"lo90":-0.89,"hi90":0.82,"lo68":-0.53,"hi68":0.46},
      {"v":"y1","h":33,"base":-0.04,"cf":-0.075,"sig":0,"lo90":-0.895,"hi90":0.85,"lo68":-0.53,"hi68":0.48},
      {"v":"y1","h":34,"base":-0.02,"cf":-0.07,"sig":0,"lo90":-0.9,"hi90":0.87,"lo68":-0.53,"hi68":0.49},
      {"v":"y1","h":35,"base":0.0,"cf":-0.065,"sig":0,"lo90":-0.905,"hi90":0.88,"lo68":-0.53,"hi68":0.5},
      {"v":"y1","h":36,"base":0.01,"cf":-0.06,"sig":0,"lo90":-0.91,"hi90":0.89,"lo68":-0.53,"hi68":0.51}
    ],
    "key": [
      {"series": "Baseline"},
      {"series": "No fiscal stimulus"}
    ],
    "caption": [
      {"line": 1, "kind": "bold", "text": "Fig. 3."},
      {"line": 1, "kind": "fig", "text": "Disentangling the role of fiscal stimulus."},
      {"line": 2, "kind": "bold", "text": "Note:"},
      {"line": 2, "kind": "note", "text": "The GSC shock is normalised to induce a one-standard-deviation increase in the shortage index of"},
      {"line": 2, "kind": "link", "text": "Caldara et al. (2025)"},
      {"line": 2, "kind": "tail", "text": ". The horizontal"},
      {"line": 3, "kind": "body", "text": "axis shows months. Solid lines represent median responses, while shaded areas indicate 68% and 90% posterior coverage bands. Red-circled lines"},
      {"line": 4, "kind": "body", "text": "show counterfactual median responses. Filled circles indicate responses within the 90% posterior coverage bands, while empty markers denote"},
      {"line": 5, "kind": "body", "text": "non-significant responses. Estimation sample: 1991M1–2025M6."}
    ]
  },
  "vconcat": [
    {
      "columns": 5,
      "bounds": "flush",
      "spacing": {"row": 57, "column": 40},
      "resolve": {"scale": {"x": "independent", "y": "independent", "color": "independent"}},
      "concat": [
        {
          "title": "Industrial production",
          "width": 126, "height": 140,
          "data": {"name": "irf"},
          "transform": [{"filter": "datum.v === 'ip'"}],
          "encoding": {"x": {"field": "h", "type": "quantitative", "scale": {"domain": [0, 36], "nice": false}, "axis": {"values": [0, 6, 12, 18, 24, 30, 36], "tickCount": 20, "title": null}}},
          "layer": [
            {"mark": {"type": "area", "color": "#e7e7e7"}, "encoding": {"y": {"field": "lo90", "type": "quantitative", "scale": {"domain": [-4.4, 2.15], "nice": false, "zero": false}, "axis": {"values": [-4, -3, -2, -1, 0, 1, 2], "tickCount": 20, "labelOverlap": false, "format": "d", "title": "YoY % change"}}, "y2": {"field": "hi90"}}},
            {"mark": {"type": "area", "color": "#c6c6c6"}, "encoding": {"y": {"field": "lo68", "type": "quantitative"}, "y2": {"field": "hi68"}}},
            {"mark": {"type": "rule", "color": "#4d4d4d", "strokeDash": [5, 3], "strokeWidth": 1}, "encoding": {"y": {"datum": 0}}},
            {"mark": {"type": "line", "color": "#2b5d8f", "strokeWidth": 2}, "encoding": {"y": {"field": "base", "type": "quantitative"}}},
            {"mark": {"type": "line", "color": "#ff0000", "strokeWidth": 2}, "encoding": {"y": {"field": "cf", "type": "quantitative"}}},
            {"mark": {"type": "point", "filled": true, "stroke": "#ff0000", "strokeWidth": 1.4, "size": 30, "opacity": 1}, "encoding": {"y": {"field": "cf", "type": "quantitative"}, "fill": {"condition": {"test": "datum.sig === 1", "value": "#ff0000"}, "value": "#ffffff"}}}
          ]
        },
        {
          "title": "Employment",
          "width": 126, "height": 140,
          "data": {"name": "irf"},
          "transform": [{"filter": "datum.v === 'emp'"}],
          "encoding": {"x": {"field": "h", "type": "quantitative", "scale": {"domain": [0, 36], "nice": false}, "axis": {"values": [0, 6, 12, 18, 24, 30, 36], "tickCount": 20, "title": null}}},
          "layer": [
            {"mark": {"type": "area", "color": "#e7e7e7"}, "encoding": {"y": {"field": "lo90", "type": "quantitative", "scale": {"domain": [-2.8, 1.3], "nice": false, "zero": false}, "axis": {"values": [-2.5, -2, -1.5, -1, -0.5, 0, 0.5, 1], "tickCount": 20, "labelOverlap": false, "format": ".1~f", "title": "YoY % change"}}, "y2": {"field": "hi90"}}},
            {"mark": {"type": "area", "color": "#c6c6c6"}, "encoding": {"y": {"field": "lo68", "type": "quantitative"}, "y2": {"field": "hi68"}}},
            {"mark": {"type": "rule", "color": "#4d4d4d", "strokeDash": [5, 3], "strokeWidth": 1}, "encoding": {"y": {"datum": 0}}},
            {"mark": {"type": "line", "color": "#2b5d8f", "strokeWidth": 2}, "encoding": {"y": {"field": "base", "type": "quantitative"}}},
            {"mark": {"type": "line", "color": "#ff0000", "strokeWidth": 2}, "encoding": {"y": {"field": "cf", "type": "quantitative"}}},
            {"mark": {"type": "point", "filled": true, "stroke": "#ff0000", "strokeWidth": 1.4, "size": 30, "opacity": 1}, "encoding": {"y": {"field": "cf", "type": "quantitative"}, "fill": {"condition": {"test": "datum.sig === 1", "value": "#ff0000"}, "value": "#ffffff"}}}
          ]
        },
        {
          "title": "Imported int. quantities",
          "width": 126, "height": 140,
          "data": {"name": "irf"},
          "transform": [{"filter": "datum.v === 'impq'"}],
          "encoding": {"x": {"field": "h", "type": "quantitative", "scale": {"domain": [0, 36], "nice": false}, "axis": {"values": [0, 6, 12, 18, 24, 30, 36], "tickCount": 20, "title": null}}},
          "layer": [
            {"mark": {"type": "area", "color": "#e7e7e7"}, "encoding": {"y": {"field": "lo90", "type": "quantitative", "scale": {"domain": [-3.75, 2.75], "nice": false, "zero": false}, "axis": {"values": [-3, -2, -1, 0, 1, 2], "tickCount": 20, "labelOverlap": false, "format": "d", "title": "YoY % change"}}, "y2": {"field": "hi90"}}},
            {"mark": {"type": "area", "color": "#c6c6c6"}, "encoding": {"y": {"field": "lo68", "type": "quantitative"}, "y2": {"field": "hi68"}}},
            {"mark": {"type": "rule", "color": "#4d4d4d", "strokeDash": [5, 3], "strokeWidth": 1}, "encoding": {"y": {"datum": 0}}},
            {"mark": {"type": "line", "color": "#2b5d8f", "strokeWidth": 2}, "encoding": {"y": {"field": "base", "type": "quantitative"}}},
            {"mark": {"type": "line", "color": "#ff0000", "strokeWidth": 2}, "encoding": {"y": {"field": "cf", "type": "quantitative"}}},
            {"mark": {"type": "point", "filled": true, "stroke": "#ff0000", "strokeWidth": 1.4, "size": 30, "opacity": 1}, "encoding": {"y": {"field": "cf", "type": "quantitative"}, "fill": {"condition": {"test": "datum.sig === 1", "value": "#ff0000"}, "value": "#ffffff"}}}
          ]
        },
        {
          "title": "Imported int. prices",
          "width": 126, "height": 140,
          "data": {"name": "irf"},
          "transform": [{"filter": "datum.v === 'impp'"}],
          "encoding": {"x": {"field": "h", "type": "quantitative", "scale": {"domain": [0, 36], "nice": false}, "axis": {"values": [0, 6, 12, 18, 24, 30, 36], "tickCount": 20, "title": null}}},
          "layer": [
            {"mark": {"type": "area", "color": "#e7e7e7"}, "encoding": {"y": {"field": "lo90", "type": "quantitative", "scale": {"domain": [-7.25, 8.35], "nice": false, "zero": false}, "axis": {"values": [-6, -4, -2, 0, 2, 4, 6, 8], "tickCount": 20, "labelOverlap": false, "format": "d", "title": "YoY % change"}}, "y2": {"field": "hi90"}}},
            {"mark": {"type": "area", "color": "#c6c6c6"}, "encoding": {"y": {"field": "lo68", "type": "quantitative"}, "y2": {"field": "hi68"}}},
            {"mark": {"type": "rule", "color": "#4d4d4d", "strokeDash": [5, 3], "strokeWidth": 1}, "encoding": {"y": {"datum": 0}}},
            {"mark": {"type": "line", "color": "#2b5d8f", "strokeWidth": 2}, "encoding": {"y": {"field": "base", "type": "quantitative"}}},
            {"mark": {"type": "line", "color": "#ff0000", "strokeWidth": 2}, "encoding": {"y": {"field": "cf", "type": "quantitative"}}},
            {"mark": {"type": "point", "filled": true, "stroke": "#ff0000", "strokeWidth": 1.4, "size": 30, "opacity": 1}, "encoding": {"y": {"field": "cf", "type": "quantitative"}, "fill": {"condition": {"test": "datum.sig === 1", "value": "#ff0000"}, "value": "#ffffff"}}}
          ]
        },
        {
          "title": "Core PCE goods",
          "width": 126, "height": 140,
          "data": {"name": "irf"},
          "transform": [{"filter": "datum.v === 'pceg'"}],
          "encoding": {"x": {"field": "h", "type": "quantitative", "scale": {"domain": [0, 36], "nice": false}, "axis": {"values": [0, 6, 12, 18, 24, 30, 36], "tickCount": 20, "title": null}}},
          "layer": [
            {"mark": {"type": "area", "color": "#e7e7e7"}, "encoding": {"y": {"field": "lo90", "type": "quantitative", "scale": {"domain": [-1.72, 2.42], "nice": false, "zero": false}, "axis": {"values": [-1.5, -1, -0.5, 0, 0.5, 1, 1.5, 2], "tickCount": 20, "labelOverlap": false, "format": ".1~f", "title": "YoY % change"}}, "y2": {"field": "hi90"}}},
            {"mark": {"type": "area", "color": "#c6c6c6"}, "encoding": {"y": {"field": "lo68", "type": "quantitative"}, "y2": {"field": "hi68"}}},
            {"mark": {"type": "rule", "color": "#4d4d4d", "strokeDash": [5, 3], "strokeWidth": 1}, "encoding": {"y": {"datum": 0}}},
            {"mark": {"type": "line", "color": "#2b5d8f", "strokeWidth": 2}, "encoding": {"y": {"field": "base", "type": "quantitative"}}},
            {"mark": {"type": "line", "color": "#ff0000", "strokeWidth": 2}, "encoding": {"y": {"field": "cf", "type": "quantitative"}}},
            {"mark": {"type": "point", "filled": true, "stroke": "#ff0000", "strokeWidth": 1.4, "size": 30, "opacity": 1}, "encoding": {"y": {"field": "cf", "type": "quantitative"}, "fill": {"condition": {"test": "datum.sig === 1", "value": "#ff0000"}, "value": "#ffffff"}}}
          ]
        },
        {
          "title": "Core PCE services",
          "width": 126, "height": 138,
          "data": {"name": "irf"},
          "transform": [{"filter": "datum.v === 'pces'"}],
          "encoding": {"x": {"field": "h", "type": "quantitative", "scale": {"domain": [0, 36], "nice": false}, "axis": {"values": [0, 6, 12, 18, 24, 30, 36], "tickCount": 20, "title": null}}},
          "layer": [
            {"mark": {"type": "area", "color": "#e7e7e7"}, "encoding": {"y": {"field": "lo90", "type": "quantitative", "scale": {"domain": [-0.58, 0.6], "nice": false, "zero": false}, "axis": {"values": [-0.5, 0, 0.5], "tickCount": 20, "labelOverlap": false, "format": ".1~f", "title": "YoY % change"}}, "y2": {"field": "hi90"}}},
            {"mark": {"type": "area", "color": "#c6c6c6"}, "encoding": {"y": {"field": "lo68", "type": "quantitative"}, "y2": {"field": "hi68"}}},
            {"mark": {"type": "rule", "color": "#4d4d4d", "strokeDash": [5, 3], "strokeWidth": 1}, "encoding": {"y": {"datum": 0}}},
            {"mark": {"type": "line", "color": "#2b5d8f", "strokeWidth": 2}, "encoding": {"y": {"field": "base", "type": "quantitative"}}},
            {"mark": {"type": "line", "color": "#ff0000", "strokeWidth": 2}, "encoding": {"y": {"field": "cf", "type": "quantitative"}}},
            {"mark": {"type": "point", "filled": true, "stroke": "#ff0000", "strokeWidth": 1.4, "size": 30, "opacity": 1}, "encoding": {"y": {"field": "cf", "type": "quantitative"}, "fill": {"condition": {"test": "datum.sig === 1", "value": "#ff0000"}, "value": "#ffffff"}}}
          ]
        },
        {
          "title": "Core PCE",
          "width": 126, "height": 138,
          "data": {"name": "irf"},
          "transform": [{"filter": "datum.v === 'pce'"}],
          "encoding": {"x": {"field": "h", "type": "quantitative", "scale": {"domain": [0, 36], "nice": false}, "axis": {"values": [0, 6, 12, 18, 24, 30, 36], "tickCount": 20, "title": null}}},
          "layer": [
            {"mark": {"type": "area", "color": "#e7e7e7"}, "encoding": {"y": {"field": "lo90", "type": "quantitative", "scale": {"domain": [-0.86, 1.13], "nice": false, "zero": false}, "axis": {"values": [-0.5, 0, 0.5, 1], "tickCount": 20, "labelOverlap": false, "format": ".1~f", "title": "YoY % change"}}, "y2": {"field": "hi90"}}},
            {"mark": {"type": "area", "color": "#c6c6c6"}, "encoding": {"y": {"field": "lo68", "type": "quantitative"}, "y2": {"field": "hi68"}}},
            {"mark": {"type": "rule", "color": "#4d4d4d", "strokeDash": [5, 3], "strokeWidth": 1}, "encoding": {"y": {"datum": 0}}},
            {"mark": {"type": "line", "color": "#2b5d8f", "strokeWidth": 2}, "encoding": {"y": {"field": "base", "type": "quantitative"}}},
            {"mark": {"type": "line", "color": "#ff0000", "strokeWidth": 2}, "encoding": {"y": {"field": "cf", "type": "quantitative"}}},
            {"mark": {"type": "point", "filled": true, "stroke": "#ff0000", "strokeWidth": 1.4, "size": 30, "opacity": 1}, "encoding": {"y": {"field": "cf", "type": "quantitative"}, "fill": {"condition": {"test": "datum.sig === 1", "value": "#ff0000"}, "value": "#ffffff"}}}
          ]
        },
        {
          "title": "1-year yield",
          "width": 126, "height": 138,
          "data": {"name": "irf"},
          "transform": [{"filter": "datum.v === 'y1'"}],
          "encoding": {"x": {"field": "h", "type": "quantitative", "scale": {"domain": [0, 36], "nice": false}, "axis": {"values": [0, 6, 12, 18, 24, 30, 36], "tickCount": 20, "title": null}}},
          "layer": [
            {"mark": {"type": "area", "color": "#e7e7e7"}, "encoding": {"y": {"field": "lo90", "type": "quantitative", "scale": {"domain": [-1.22, 0.91], "nice": false, "zero": false}, "axis": {"values": [-1, -0.5, 0, 0.5], "tickCount": 20, "labelOverlap": false, "format": ".1~f", "title": "% points"}}, "y2": {"field": "hi90"}}},
            {"mark": {"type": "area", "color": "#c6c6c6"}, "encoding": {"y": {"field": "lo68", "type": "quantitative"}, "y2": {"field": "hi68"}}},
            {"mark": {"type": "rule", "color": "#4d4d4d", "strokeDash": [5, 3], "strokeWidth": 1}, "encoding": {"y": {"datum": 0}}},
            {"mark": {"type": "line", "color": "#2b5d8f", "strokeWidth": 2}, "encoding": {"y": {"field": "base", "type": "quantitative"}}},
            {"mark": {"type": "line", "color": "#ff0000", "strokeWidth": 2}, "encoding": {"y": {"field": "cf", "type": "quantitative"}}},
            {"mark": {"type": "point", "filled": true, "stroke": "#ff0000", "strokeWidth": 1.4, "size": 30, "opacity": 1}, "encoding": {"y": {"field": "cf", "type": "quantitative"}, "fill": {"condition": {"test": "datum.sig === 1", "value": "#ff0000"}, "value": "#ffffff"}}}
          ]
        },
        {
          "width": 126, "height": 121,
          "data": {"name": "key"},
          "encoding": {"y": {"field": "series", "type": "nominal", "sort": null, "axis": null, "scale": {"type": "point", "range": [53, 68], "padding": 0}}},
          "layer": [
            {"mark": {"type": "rule", "strokeWidth": 2.5}, "encoding": {"x": {"datum": 0.175, "type": "quantitative", "scale": {"domain": [0, 1]}, "axis": null}, "x2": {"datum": 0.4}, "color": {"field": "series", "type": "nominal", "scale": {"domain": ["Baseline", "No fiscal stimulus"], "range": ["#2b5d8f", "#ff0000"]}, "legend": null}}},
            {"transform": [{"filter": "datum.series === 'No fiscal stimulus'"}], "mark": {"type": "point", "filled": true, "fill": "#ffffff", "stroke": "#ff0000", "strokeWidth": 2, "size": 50, "opacity": 1}, "encoding": {"x": {"datum": 0.29, "type": "quantitative"}}},
            {"mark": {"type": "text", "align": "left", "baseline": "middle", "font": "Liberation Sans", "fontSize": 13, "color": "#000000"}, "encoding": {"x": {"datum": 0.42, "type": "quantitative"}, "text": {"field": "series"}}}
          ]
        }
      ]
    },
    {
      "width": 790, "height": 85,
      "data": {"name": "caption"},
      "encoding": {
        "x": {"value": 0},
        "y": {"field": "line", "type": "ordinal", "axis": null, "scale": {"type": "point", "padding": 0.5}},
        "text": {"field": "text"}
      },
      "layer": [
        {"transform": [{"filter": "datum.kind === 'bold'"}], "mark": {"type": "text", "align": "left", "baseline": "alphabetic", "font": "Liberation Serif", "fontSize": 14, "fontWeight": "bold", "dx": -33, "color": "#000000"}},
        {"transform": [{"filter": "datum.kind === 'fig'"}], "mark": {"type": "text", "align": "left", "baseline": "alphabetic", "font": "Liberation Serif", "fontSize": 14, "dx": 13, "color": "#000000"}},
        {"transform": [{"filter": "datum.kind === 'note'"}], "mark": {"type": "text", "align": "left", "baseline": "alphabetic", "font": "Liberation Serif", "fontSize": 14, "dx": 6, "color": "#000000"}},
        {"transform": [{"filter": "datum.kind === 'link'"}], "mark": {"type": "text", "align": "left", "baseline": "alphabetic", "font": "Liberation Serif", "fontSize": 14, "dx": 562, "color": "#2f78c4"}},
        {"transform": [{"filter": "datum.kind === 'tail'"}], "mark": {"type": "text", "align": "left", "baseline": "alphabetic", "font": "Liberation Serif", "fontSize": 14, "dx": 680, "color": "#000000"}},
        {"transform": [{"filter": "datum.kind === 'body'"}], "mark": {"type": "text", "align": "left", "baseline": "alphabetic", "font": "Liberation Serif", "fontSize": 14, "dx": -33, "color": "#000000"}}
      ]
    }
  ],
  "spacing": 22,
  "config": {
    "view": {"stroke": null},
    "font": "Liberation Sans",
    "axis": {"grid": false, "ticks": false, "labelOverlap": false, "domainColor": "#3a3a3a", "labelColor": "#3a3a3a", "labelFont": "Liberation Sans", "labelFontSize": 10, "titleFont": "Liberation Sans", "titleFontSize": 10, "titleFontWeight": "normal", "titleColor": "#3a3a3a", "labelPadding": 3, "titlePadding": 2},
    "axisX": {"labelPadding": 3},
    "title": {"font": "Liberation Sans", "fontSize": 11.3, "fontWeight": "bold", "color": "#000000", "offset": -1}
  }
}
